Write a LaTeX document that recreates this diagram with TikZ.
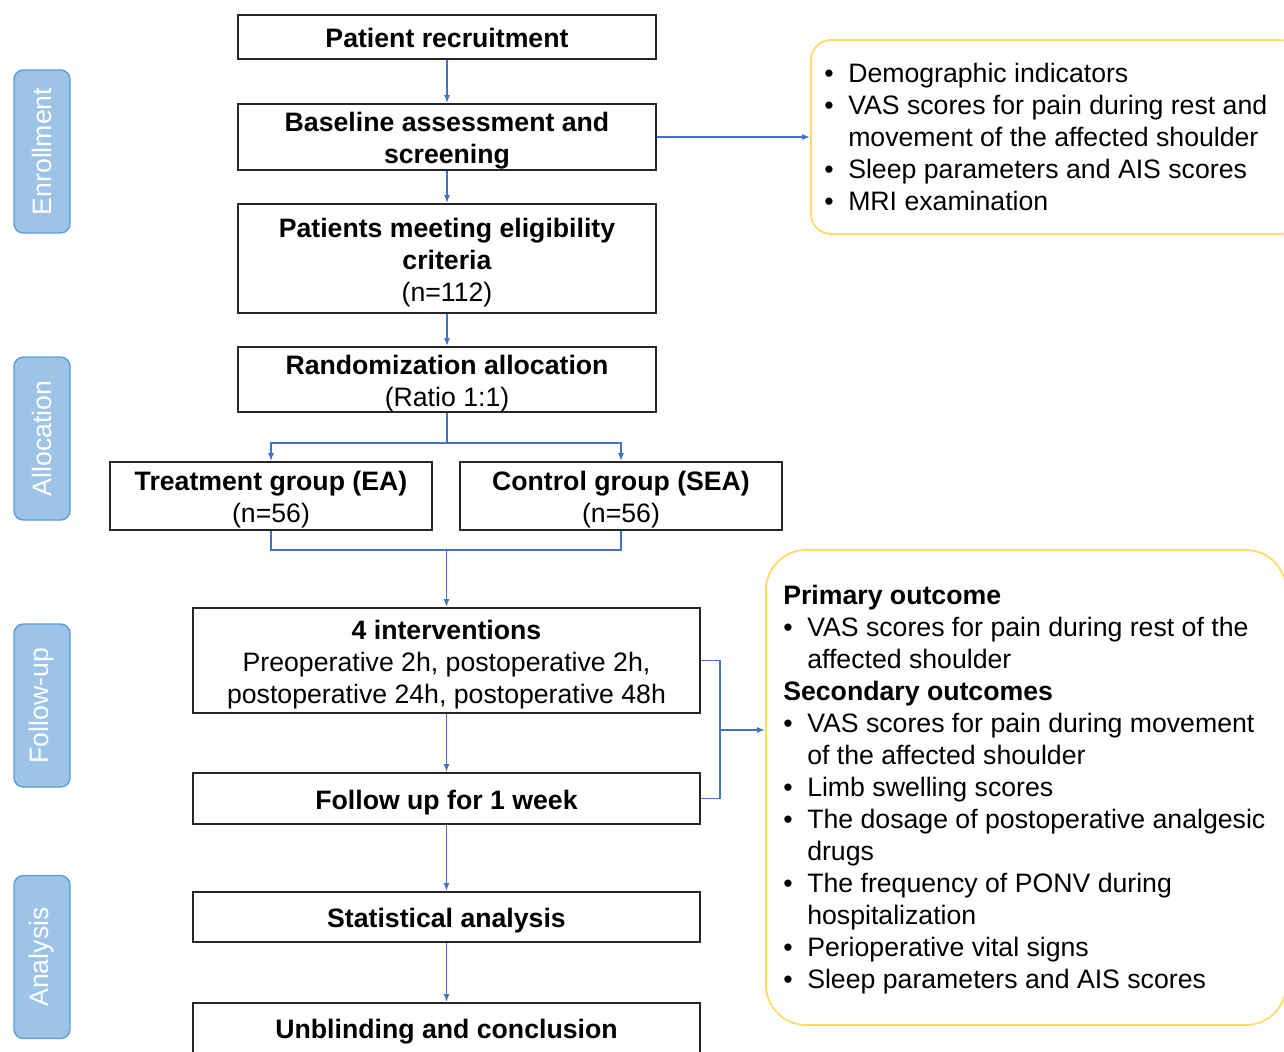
\documentclass[tikz,border=0pt]{standalone}
\usepackage{fontspec}
\setmainfont{Liberation Sans}
\usetikzlibrary{arrows.meta,calc}
\definecolor{lineblue}{HTML}{4472C4}
\definecolor{sidefill}{HTML}{9DC3E6}
\definecolor{sideedge}{HTML}{5B9BD5}
\definecolor{yel}{HTML}{FFD966}
\newcommand{\bl}{\makebox[18pt][l]{\textbullet}}
\newcommand{\ind}{\hspace*{18pt}}
\newcommand{\tst}{\rule{0pt}{20.4pt}}
\newcommand{\bst}{\rule[-4.3pt]{0pt}{4.3pt}}
\begin{document}
\begin{tikzpicture}[x=0.75pt,y=-0.75pt,
  box/.style={draw=black!85, line width=1.3pt, align=center, inner sep=0pt,
    font=\fontsize{20}{24}\selectfont},
  side/.style={draw=sideedge, fill=sidefill, rounded corners=7pt, line width=1pt,
    minimum width=163*0.75pt, minimum height=56*0.75pt, rotate=90, text=white,
    inner sep=0pt, font=\fontsize{20}{24}\selectfont},
  conn/.style={draw=lineblue, line width=1.3pt},
  arr/.style={conn, -{Latex[length=6pt,width=4.5pt]}},
  notebox/.style={draw=yel, line width=1.3pt, inner sep=0pt},
  notetext/.style={align=left, inner sep=0pt, anchor=west,
    font=\fontsize{20}{24}\selectfont}
]
\useasboundingbox (0,0) rectangle (1284,1051);

% side labels
\node[side] (s1) at (42,151.5) {Enrollment};
\node[side] (s2) at (42,438.5) {Allocation};
\node[side] (s3) at (42,705.5) {Follow-up};
\node[side] (s4) at (42,957) {Analysis};

% main boxes
\node[box, minimum width=418*0.75pt, minimum height=44*0.75pt] (rec) at (447,37)
  {\tst\textbf{Patient recruitment}\bst};
\node[box, minimum width=418*0.75pt, minimum height=66*0.75pt] (base) at (447,137)
  {\tst\textbf{Baseline assessment and}\\\textbf{screening}\bst};
\node[box, minimum width=418*0.75pt, minimum height=109*0.75pt] (elig) at (447,258.5)
  {\tst\textbf{Patients meeting eligibility}\\\textbf{criteria}\\(n=112)\bst};
\node[box, minimum width=418*0.75pt, minimum height=65*0.75pt] (rand) at (447,379.5)
  {\tst\textbf{Randomization allocation}\\(Ratio 1:1)\bst};
\node[box, minimum width=322*0.75pt, minimum height=68*0.75pt] (treat) at (271,496)
  {\tst\textbf{Treatment group (EA)}\\(n=56)\bst};
\node[box, minimum width=322*0.75pt, minimum height=68*0.75pt] (ctrl) at (621,496)
  {\tst\textbf{Control group (SEA)}\\(n=56)\bst};
\node[box, minimum width=507*0.75pt, minimum height=105*0.75pt] (interv) at (446.5,660.5)
  {\tst\textbf{4 interventions}\\Preoperative 2h, postoperative 2h,\\postoperative 24h, postoperative 48h\bst};
\node[box, minimum width=507*0.75pt, minimum height=51*0.75pt] (follow) at (446.5,798.5)
  {\tst\textbf{Follow up for 1 week}\bst};
\node[box, minimum width=507*0.75pt, minimum height=50*0.75pt] (stat) at (446.5,917)
  {\tst\textbf{Statistical analysis}\bst};
\node[box, minimum width=507*0.75pt, minimum height=50*0.75pt] (unbl) at (446.5,1028)
  {\tst\textbf{Unblinding and conclusion}\bst};

% outcome boxes
\draw[notebox, rounded corners=15pt] (811,40) rectangle (1300,234);
\node[notebox, draw=none, minimum width=489*0.75pt, minimum height=194*0.75pt] (out1) at (1055.5,137) {};
\node[notetext] (out1t) at (824,137) {%
\bl Demographic indicators\\
\bl VAS scores for pain during rest and\\
\ind movement of the affected shoulder\\
\bl Sleep parameters and AIS scores\\
\bl MRI examination};

\draw[notebox, rounded corners=30pt] (766,550) rectangle (1286,1025);
\node[notebox, draw=none, minimum width=520*0.75pt, minimum height=475*0.75pt] (out2) at (1026,787.5) {};
\node[notetext] (out2t) at (783,790) {%
\textbf{Primary outcome}\\
\bl VAS scores for pain during rest of the\\
\ind affected shoulder\\
\textbf{Secondary outcomes}\\
\bl VAS scores for pain during movement\\
\ind of the affected shoulder\\
\bl Limb swelling scores\\
\bl The dosage of postoperative analgesic\\
\ind drugs\\
\bl The frequency of PONV during\\
\ind hospitalization\\
\bl Perioperative vital signs\\
\bl Sleep parameters and AIS scores};

% connectors
\draw[arr] (rec) -- (base);
\draw[arr] (base) -- (elig);
\draw[arr] (elig) -- (rand);
\coordinate (split) at (447,443);
\draw[conn] (rand.south) -- (split);
\draw[arr] (split) -| (treat.north);
\draw[arr] (split) -| (ctrl.north);
\coordinate (merge) at (446.5,550);
\draw[conn] (treat.south) |- (merge) -| (ctrl.south);
\draw[arr] (merge) -- (interv.north);
\draw[arr] (interv) -- (follow);
\draw[arr] (follow) -- (stat);
\draw[arr] (stat) -- (unbl);
\coordinate (brk) at (720,730);
\draw[conn] (interv.east) -| (brk) |- (follow.east);
\draw[arr] (brk) -- (brk -| out2.west);
\draw[arr] (base.east) -- (base.east -| out1.west);
\end{tikzpicture}
\end{document}
